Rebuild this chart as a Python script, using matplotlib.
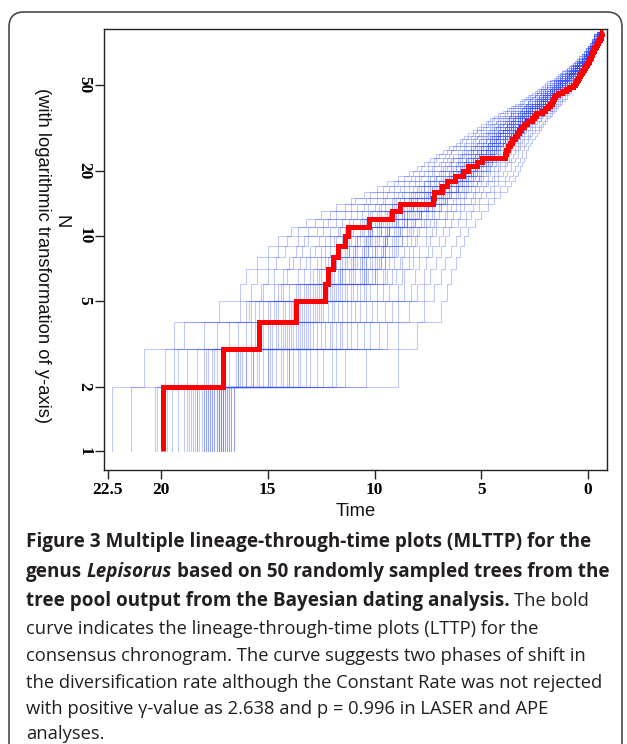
import matplotlib
matplotlib.use("Agg")
import matplotlib.pyplot as plt
from matplotlib.patches import FancyBboxPatch
from matplotlib.ticker import NullLocator

W, H, DPI = 627, 744, 100

# ---------------- data ----------------
x_ticks = [22.5, 20, 15, 10, 5, 0]
x_tick_labels = ["22.5", "20", "15", "10", "5", "0"]
y_ticks = [1, 2, 5, 10, 20, 50]
y_tick_labels = ["1", "2", "5", "10", "20", "50"]
present_time = -0.72  # end of all curves (My)

# consensus chronogram: time (My) at which lineages go N -> N+1, N = 1..87
consensus_times = [
    19.90, 17.10, 15.40, 13.70, 12.30, 12.18, 11.94, 11.71, 11.38, 11.24,
    10.25, 9.20, 8.80, 7.26, 7.20, 6.84, 6.60, 6.23, 5.85, 5.62,
    5.20, 4.96, 3.89, 3.84, 3.77, 3.65, 3.56, 3.42, 3.33, 3.23,
    3.14, 3.00, 2.86, 2.62, 2.53, 2.44, 2.15, 2.01, 1.87, 1.78,
    1.69, 1.64, 1.59, 1.55, 1.41, 1.22, 1.03, 0.89, 0.70, 0.61,
    0.56, 0.52, 0.47, 0.42, 0.37, 0.33, 0.28, 0.23, 0.19, 0.14,
    0.09, 0.05, 0.00, -0.03, -0.06, -0.09, -0.12, -0.15, -0.18, -0.21,
    -0.24, -0.27, -0.30, -0.33, -0.36, -0.39, -0.42, -0.45, -0.48, -0.51,
    -0.54, -0.57, -0.59, -0.61, -0.63, -0.65, -0.67,
]

# 50 sampled trees: for each lineage level N (row), the time (tenths of My)
# at which each tree (column) passes from N to N+1 lineages
level_times_tenths = [
    [223,214,203,202,197,195,192,189,188,187,186,185,184,183,183,182,181,180,180,179,179,178,178,177,177,176,176,175,175,174,174,173,173,173,172,172,172,171,171,171,170,170,169,169,168,168,167,167,166,166],
    [208,198,194,192,188,183,180,179,178,176,175,174,171,170,168,165,164,164,163,162,160,160,158,157,157,155,154,152,150,150,149,148,146,144,143,141,140,140,138,136,135,132,130,127,124,120,118,114,104,89],
    [194,189,180,174,168,164,160,158,156,155,153,152,150,149,148,146,145,144,143,142,141,140,139,138,137,136,135,134,133,132,131,130,129,127,125,123,121,120,118,116,115,113,111,108,105,102,98,94,89,80],
    [173,163,160,159,158,156,154,152,150,149,147,146,145,143,142,140,139,138,137,136,135,134,133,132,131,130,129,128,127,126,125,124,122,120,119,117,115,113,111,109,107,104,101,99,95,92,89,84,77,69],
    [163,158,153,152,147,145,144,143,140,137,136,135,133,132,131,130,129,128,127,126,125,124,123,122,121,120,119,118,117,116,115,114,113,111,110,108,107,105,104,102,99,96,93,89,86,83,80,77,72,66],
    [160,155,150,147,143,141,136,133,130,129,127,125,126,122,121,120,119,115,117,116,115,114,116,112,111,110,109,105,107,106,105,104,103,104,101,100,100,99,95,96,94,92,90,87,86,81,77,74,69,64],
    [155,150,146,140,138,135,132,130,127,125,123,122,120,118,118,116,115,114,113,110,111,110,109,108,106,107,106,105,104,104,102,101,100,99,98,97,97,95,95,93,91,88,87,84,82,79,76,71,67,62],
    [150,145,142,137,134,130,128,125,123,121,117,118,116,114,113,112,112,110,109,109,108,105,106,105,104,103,103,101,100,100,99,96,97,96,95,95,93,92,91,90,89,86,84,82,79,75,73,69,64,60],
    [145,141,136,133,131,126,123,121,119,118,115,114,112,111,109,108,108,107,104,105,104,103,102,102,101,100,99,98,95,96,95,95,94,94,92,91,90,89,87,87,85,83,81,80,76,74,70,67,62,58],
    [139,136,131,127,124,121,117,116,114,112,111,110,107,106,105,103,103,102,102,101,101,99,98,97,97,94,95,94,93,93,93,91,90,89,88,88,87,84,85,83,82,80,79,76,73,71,68,65,60,56],
    [132,128,124,122,118,115,112,110,106,107,105,104,102,100,98,99,98,97,96,97,95,94,93,92,90,91,90,89,89,86,87,86,85,85,85,83,82,81,81,78,77,76,74,72,71,67,64,61,57,53],
    [125,121,118,114,111,108,106,103,102,101,99,98,97,95,94,93,93,93,91,90,90,89,86,87,87,86,85,85,84,83,82,81,79,80,79,78,78,78,76,75,73,72,70,67,66,63,60,57,55,50],
    [118,114,111,108,105,103,100,98,97,95,92,92,91,90,89,89,87,87,86,85,83,84,83,82,82,82,80,80,79,78,76,77,76,75,75,75,73,73,72,70,69,69,66,64,62,60,58,54,51,47],
    [111,109,104,102,99,96,95,92,91,90,88,86,86,84,84,83,83,82,81,80,80,80,78,77,77,76,73,75,74,73,73,73,71,71,70,69,67,68,67,66,66,63,62,60,58,55,53,51,47,44],
    [105,102,99,96,94,91,89,87,86,84,83,82,81,80,79,78,77,77,75,76,75,74,74,74,72,72,71,70,68,69,69,68,67,68,66,65,65,64,64,62,61,60,58,57,54,53,50,48,44,41],
    [99,96,93,91,88,86,84,82,80,79,78,77,77,75,74,73,73,70,72,71,70,70,70,68,68,67,67,67,65,65,64,64,61,62,62,61,61,61,59,58,57,56,55,53,51,49,46,44,41,38],
    [94,91,89,86,84,81,79,77,77,75,74,74,72,71,70,70,70,68,68,67,67,65,66,65,64,64,64,63,62,62,61,61,60,59,59,58,56,57,56,55,54,52,52,50,48,47,44,42,39,36],
    [89,86,83,81,79,78,75,74,72,71,71,69,68,67,64,66,65,65,64,65,63,63,62,61,59,60,60,59,59,59,58,57,57,56,56,55,54,54,53,51,51,50,49,47,45,44,42,39,37,34],
    [84,82,79,77,75,73,72,70,69,68,67,65,65,64,63,63,63,62,61,61,60,60,60,58,58,57,57,55,56,55,55,54,54,54,53,52,52,51,50,50,49,48,47,46,44,42,40,38,35,33],
    [80,78,75,73,72,69,68,67,66,64,64,63,62,62,60,60,59,59,57,58,57,57,56,57,56,55,55,54,53,53,53,52,52,52,51,50,50,49,48,48,47,46,46,44,42,41,39,36,34,32],
    [77,75,72,70,69,67,65,64,64,62,61,60,61,59,58,58,57,56,56,56,55,55,55,54,54,53,53,53,52,51,51,50,49,49,49,48,48,47,47,46,45,45,43,42,41,39,38,36,33,31],
    [74,72,71,68,66,64,63,63,61,60,59,57,57,56,56,57,55,55,54,54,54,53,52,52,52,51,52,50,50,49,49,47,48,48,47,47,45,46,45,45,43,43,42,41,39,37,36,34,32,30],
    [71,70,67,65,63,61,60,59,58,59,57,56,55,54,55,53,53,53,52,51,51,51,50,50,51,49,49,48,48,46,47,47,46,46,46,45,45,44,44,42,42,41,40,39,39,37,35,33,31,29],
    [68,66,64,64,61,59,58,57,55,56,55,54,54,52,52,52,51,50,50,50,50,49,48,48,48,48,47,46,47,46,46,45,44,45,44,44,43,42,43,42,41,40,40,37,37,36,34,33,31,29],
    [65,63,62,60,58,57,55,55,54,53,53,52,51,50,50,50,49,49,48,48,47,47,47,46,46,47,45,45,45,44,43,44,43,43,42,43,42,41,41,40,38,39,38,37,36,34,33,32,30,28],
    [62,60,58,57,55,54,53,52,51,52,50,49,49,47,48,47,47,47,45,46,46,45,45,45,44,44,43,43,42,42,42,42,41,40,41,40,40,40,40,39,38,37,36,35,35,33,32,30,29,27],
    [60,59,57,55,54,53,51,51,50,49,48,48,48,46,46,46,45,44,45,44,44,43,43,43,43,42,42,41,41,41,41,40,39,40,39,39,39,39,38,37,37,36,34,34,33,32,31,30,28,26],
    [58,56,55,53,52,52,50,49,48,47,46,46,45,45,44,45,44,43,43,42,42,42,42,41,42,41,41,40,40,39,39,39,39,38,39,38,37,37,37,36,34,35,34,33,32,32,30,28,27,25],
    [56,54,53,51,50,49,48,47,47,46,45,44,44,42,43,43,42,42,41,41,41,41,40,41,40,39,39,39,37,38,38,37,37,36,36,36,36,36,34,35,34,33,33,33,31,30,28,27,26,24],
    [54,52,52,50,48,47,46,44,45,44,43,42,42,42,41,41,40,40,40,40,39,40,39,38,38,38,37,37,37,37,36,35,36,35,35,35,35,34,34,33,33,31,31,30,30,29,28,26,25,23],
    [52,50,49,48,46,45,44,44,43,43,42,41,41,40,39,39,39,39,38,37,38,38,37,37,36,36,36,36,35,34,35,35,34,34,33,33,33,33,32,31,31,31,30,29,29,27,26,25,23,22],
    [50,48,47,46,45,44,42,42,41,41,40,40,38,38,38,38,38,36,37,37,36,36,35,35,35,35,35,33,34,34,33,33,32,33,32,32,32,30,31,31,30,29,28,28,27,26,25,23,22,21],
    [48,47,45,43,43,42,41,40,39,39,38,38,37,36,37,36,36,36,34,35,35,35,34,33,34,33,33,33,32,32,32,32,31,30,31,31,30,30,29,29,29,28,28,26,26,25,24,23,21,20],
    [46,45,44,42,41,40,39,37,38,37,37,36,35,35,35,35,34,33,34,34,33,33,32,32,32,32,31,31,31,31,31,29,30,30,30,29,28,29,28,28,27,26,26,25,25,24,22,22,20,19],
    [44,42,41,40,39,37,37,37,36,36,34,35,34,34,33,33,32,33,32,32,31,32,31,31,31,31,30,30,30,29,28,29,29,28,28,27,28,27,27,27,25,26,25,24,23,22,22,21,19,18],
    [42,41,39,38,36,36,36,35,34,33,33,33,32,32,31,31,31,31,31,29,30,30,30,29,28,29,29,28,28,27,28,27,27,27,26,26,26,26,26,24,25,24,24,23,21,21,20,19,18,17],
    [40,39,38,36,36,35,34,33,32,32,32,31,31,29,30,30,30,29,28,29,29,28,28,27,28,28,27,27,26,27,26,26,26,25,25,25,25,25,23,24,23,23,22,21,21,20,19,18,17,16],
    [38,37,36,35,34,33,31,32,31,31,30,29,29,29,29,28,27,28,28,27,27,26,27,26,26,26,25,26,25,25,25,24,24,24,24,24,23,23,23,23,22,21,21,21,20,19,17,17,16,15],
    [36,35,34,33,32,30,30,30,29,29,28,28,28,27,27,26,27,26,26,26,25,25,25,25,25,24,24,24,24,24,22,23,23,23,23,21,22,22,22,21,20,20,20,19,19,17,17,16,15,14],
    [34,33,32,31,29,29,29,28,28,26,27,26,26,26,24,25,25,25,25,23,24,24,24,23,22,23,23,23,22,21,22,22,22,21,20,21,21,21,20,19,20,19,19,18,16,17,16,15,14,13],
    [32,31,30,28,28,28,27,26,25,26,25,25,24,23,24,24,23,23,22,23,23,22,22,21,22,22,21,21,20,21,21,20,20,19,20,20,19,19,18,19,18,18,17,16,16,16,15,14,13,12],
    [31,30,29,28,27,27,26,24,25,25,24,24,22,23,23,23,22,21,22,22,22,21,20,21,21,21,20,19,20,20,20,19,18,19,19,19,18,17,18,18,17,17,15,16,15,15,14,12,12,11],
    [29,28,27,26,26,25,23,24,23,23,23,21,22,21,21,21,20,21,20,20,20,19,20,19,19,19,18,19,19,18,18,17,18,18,17,17,16,17,17,16,16,15,15,15,14,13,13,12,11,10],
    [28,27,25,25,25,24,23,23,23,21,22,22,21,21,21,19,20,20,20,20,19,19,19,19,19,18,18,18,18,18,17,18,17,17,17,16,17,16,16,16,15,15,15,14,14,13,12,12,11,10],
    [26,25,24,24,24,22,22,21,20,21,20,20,20,18,19,19,19,19,17,18,18,18,18,16,17,17,17,17,16,16,16,16,16,15,16,15,15,15,14,15,14,14,14,13,12,12,11,11,10,9],
    [25,24,23,22,22,21,21,20,20,20,18,19,19,18,18,18,17,18,17,17,17,16,17,16,16,16,16,15,16,15,15,15,14,15,15,14,14,13,14,14,13,13,12,12,12,11,10,9,9,8],
    [24,23,22,22,21,21,20,20,19,18,19,18,18,18,16,17,17,17,17,16,16,16,16,16,15,16,16,15,15,14,15,15,15,14,14,13,14,14,14,13,12,13,12,12,11,10,10,10,9,8],
    [22,21,20,19,19,19,18,18,16,17,17,17,16,15,16,16,16,15,14,15,15,15,15,13,14,14,14,14,13,14,13,13,13,12,13,13,13,12,11,12,12,11,11,10,10,10,9,8,8,7],
    [21,20,18,19,18,18,17,16,16,16,16,16,14,15,15,15,15,13,14,14,14,14,13,13,13,13,13,12,13,13,12,12,11,12,12,12,12,10,11,11,11,10,9,10,9,9,8,6,7,6],
    [20,19,19,18,16,17,16,16,16,15,15,15,15,14,14,13,14,14,14,14,12,13,13,13,13,12,13,12,12,12,11,12,12,12,11,11,10,11,11,11,10,9,10,9,9,9,7,7,7,6],
    [19,18,18,16,16,16,15,15,14,15,14,14,14,13,12,13,13,13,13,12,12,12,12,12,11,12,12,11,11,10,11,11,11,10,10,10,10,10,9,10,9,9,9,8,7,8,7,6,6,5],
    [18,17,16,16,16,15,14,14,14,14,14,13,12,13,13,13,12,12,11,12,12,12,12,10,11,11,11,11,10,11,11,10,10,10,9,10,10,10,10,9,8,9,9,8,8,7,6,6,6,5],
    [16,15,15,14,13,13,13,13,12,12,11,12,11,11,11,11,10,11,11,10,10,9,10,10,10,10,9,10,9,9,9,8,9,9,9,9,8,7,8,8,8,7,7,6,7,6,6,5,4,4],
    [15,14,14,13,13,12,12,12,12,11,11,10,11,11,10,10,10,9,10,10,10,10,9,9,9,9,9,8,9,9,9,9,8,8,8,8,8,8,7,8,7,7,7,7,6,5,6,5,5,4],
    [14,13,13,11,12,12,11,11,11,9,10,10,10,10,9,8,9,9,9,9,8,9,9,8,8,7,8,8,8,8,7,8,8,7,7,7,6,7,7,7,6,6,5,6,5,5,5,3,4,3],
    [13,12,12,12,11,11,11,9,10,10,10,9,9,8,9,9,9,9,8,7,8,8,8,8,7,8,8,8,7,6,7,7,7,7,6,7,7,7,6,6,5,6,6,5,5,4,4,4,3,3],
    [12,12,10,11,10,10,10,9,8,9,9,8,8,8,7,8,8,8,7,7,7,6,7,7,7,7,7,6,6,6,6,6,5,6,6,6,6,6,5,4,5,5,5,4,4,4,2,3,2,2],
    [11,11,10,10,8,9,9,8,8,8,7,8,8,7,7,7,6,7,7,7,7,7,6,6,6,6,6,6,5,6,6,6,6,5,6,5,5,5,4,5,5,5,4,4,3,4,3,3,2,2],
    [10,10,9,8,8,8,8,7,7,6,7,7,7,6,6,5,6,6,6,6,5,6,6,5,5,5,4,5,5,5,5,4,5,5,5,4,4,3,4,4,4,4,3,2,3,3,2,2,1,1],
    [9,9,7,8,8,7,7,6,7,6,6,6,6,5,6,6,6,5,5,4,5,5,5,5,4,5,5,5,4,5,4,4,4,3,4,4,4,4,4,3,3,3,3,3,3,1,2,2,1,1],
    [8,8,7,7,7,6,5,6,6,5,5,5,4,5,5,5,5,4,3,4,4,4,4,4,4,4,3,4,4,4,3,3,3,3,3,2,3,3,3,3,2,2,1,2,2,1,1,1,0,0],
    [7,7,6,5,6,5,5,5,5,4,5,4,4,4,4,3,4,4,4,4,4,3,4,3,3,3,3,3,2,3,3,3,3,2,3,3,3,3,2,2,1,2,2,2,1,1,1,1,0,0],
    [6,6,5,5,4,5,5,4,4,4,4,3,4,4,4,3,3,3,3,2,3,3,3,3,3,3,2,3,3,3,3,3,2,2,2,2,1,2,2,2,2,2,2,1,1,0,1,1,0,0],
    [6,6,5,5,5,4,4,4,3,4,4,3,3,3,3,3,2,3,3,3,3,3,3,2,2,1,2,2,2,2,2,3,2,2,2,2,2,2,1,1,0,1,1,1,0,0,0,0,-1,-1],
    [5,5,4,4,4,4,3,3,3,2,3,3,3,3,3,2,2,2,2,2,1,2,2,2,2,2,2,2,1,2,2,2,1,1,1,1,1,0,1,1,1,1,1,0,-1,0,0,0,-1,-1],
    [4,4,4,3,3,2,3,3,2,2,2,2,2,2,1,2,2,2,2,1,2,2,2,1,1,1,1,1,1,1,0,1,1,1,1,1,0,1,1,1,1,0,0,0,-1,0,0,-1,-1,-1],
    [4,4,3,3,3,3,2,1,2,2,2,2,2,2,2,1,1,1,0,1,1,1,1,1,1,0,1,1,1,1,1,1,0,-1,0,0,0,0,0,-1,0,0,0,-1,-1,-2,-1,-1,-2,-2],
    [3,3,3,2,1,2,2,2,1,1,1,1,0,1,1,1,1,1,1,1,0,1,1,0,0,0,0,0,0,-1,0,0,0,0,0,0,0,0,-1,0,0,-1,-1,-2,-1,-1,-1,-2,-2,-2],
    [3,3,3,2,2,2,1,2,1,1,1,1,1,1,1,0,1,1,1,1,1,1,0,0,0,0,0,-1,0,0,0,0,0,0,-1,0,0,0,0,0,-1,-1,-1,-1,-1,-1,-2,-2,-2,-2],
    [2,2,2,1,1,1,1,1,0,1,1,1,0,0,0,0,0,-1,0,0,0,0,0,0,0,0,0,0,-1,0,0,0,0,0,0,0,-1,-1,-1,-1,-2,-1,-1,-1,-1,-1,-1,-2,-2,-2],
    [2,2,2,1,1,0,1,1,0,0,0,0,0,-1,0,0,0,0,0,0,0,0,0,-1,-2,-1,-1,-1,-1,-1,-1,-1,-1,-2,-1,-1,-1,-1,-1,-1,-1,-2,-2,-2,-3,-2,-2,-3,-3,-3],
    [1,1,1,0,-1,0,0,0,0,0,0,0,-1,-1,-2,-1,-1,-1,-1,-1,-1,-1,-1,-1,-1,-1,-2,-1,-1,-1,-1,-1,-1,-1,-1,-1,-2,-2,-3,-2,-2,-2,-2,-2,-2,-2,-2,-3,-3,-3],
    [1,1,1,0,0,0,0,-1,0,0,0,0,-1,-1,-1,-1,-1,-1,-1,-2,-1,-1,-1,-1,-1,-1,-1,-1,-1,-1,-2,-1,-1,-1,-1,-1,-2,-2,-2,-2,-2,-2,-2,-3,-2,-2,-2,-3,-3,-3],
    [0,0,0,0,-1,-1,-1,-1,-1,-1,-2,-1,-1,-1,-1,-1,-1,-1,-1,-1,-1,-1,-1,-2,-2,-2,-2,-1,-2,-2,-2,-2,-2,-2,-2,-3,-2,-2,-2,-2,-2,-3,-2,-2,-2,-2,-3,-3,-3,-3],
    [0,0,-1,0,-1,-1,-1,-1,-1,-1,-1,-1,-1,-1,-1,-2,-1,-1,-1,-1,-1,-1,-1,-2,-2,-2,-2,-2,-2,-2,-3,-2,-2,-2,-2,-2,-2,-2,-2,-2,-2,-2,-2,-2,-3,-2,-3,-3,-3,-3],
    [-1,-1,-1,-1,-2,-2,-1,-2,-2,-2,-2,-2,-2,-2,-2,-2,-2,-2,-2,-2,-3,-2,-2,-3,-3,-3,-3,-3,-3,-3,-3,-3,-3,-4,-3,-3,-3,-3,-3,-3,-4,-3,-3,-3,-3,-3,-4,-4,-4,-4],
    [-1,-1,-1,-2,-2,-2,-2,-2,-2,-2,-2,-2,-2,-3,-2,-2,-2,-2,-2,-2,-2,-2,-2,-3,-3,-3,-2,-3,-3,-3,-3,-3,-3,-3,-3,-3,-3,-3,-4,-3,-3,-3,-3,-3,-3,-4,-4,-4,-4,-4],
    [-2,-2,-2,-2,-2,-2,-2,-3,-3,-3,-2,-3,-3,-3,-3,-3,-3,-3,-3,-3,-2,-3,-3,-3,-3,-3,-3,-3,-3,-3,-4,-3,-3,-3,-3,-3,-3,-3,-4,-3,-3,-3,-3,-4,-4,-4,-4,-4,-4,-4],
    [-2,-2,-2,-2,-2,-3,-2,-3,-3,-3,-3,-3,-3,-3,-3,-2,-3,-3,-3,-3,-3,-3,-3,-3,-3,-4,-3,-3,-3,-3,-3,-3,-3,-3,-3,-4,-3,-3,-3,-3,-3,-3,-3,-4,-4,-4,-4,-4,-4,-4],
    [-2,-2,-2,-2,-3,-3,-3,-3,-2,-3,-3,-3,-3,-3,-3,-3,-3,-3,-4,-3,-3,-3,-3,-4,-4,-4,-4,-4,-4,-4,-3,-4,-4,-4,-4,-4,-4,-4,-4,-4,-4,-4,-5,-4,-4,-4,-5,-5,-5,-5],
    [-2,-2,-2,-3,-3,-3,-3,-3,-3,-3,-3,-3,-4,-3,-3,-3,-3,-3,-3,-3,-3,-3,-3,-4,-4,-4,-4,-3,-4,-4,-4,-4,-4,-4,-4,-4,-4,-5,-4,-4,-4,-4,-4,-4,-4,-5,-5,-5,-5,-5],
    [-3,-3,-3,-3,-3,-3,-3,-4,-4,-3,-4,-4,-4,-4,-4,-4,-4,-4,-4,-4,-4,-4,-3,-4,-4,-4,-4,-4,-4,-4,-4,-4,-4,-5,-4,-4,-4,-4,-4,-4,-5,-4,-4,-5,-5,-5,-5,-5,-5,-5],
    [-3,-3,-3,-3,-4,-3,-3,-4,-4,-4,-4,-4,-4,-4,-4,-4,-4,-3,-4,-4,-4,-4,-4,-4,-4,-4,-4,-4,-5,-4,-4,-4,-4,-4,-4,-4,-4,-4,-5,-4,-4,-4,-4,-5,-5,-5,-5,-5,-5,-5],
    [-3,-3,-3,-3,-3,-3,-4,-4,-4,-4,-4,-4,-4,-4,-3,-4,-4,-4,-4,-4,-4,-4,-4,-4,-4,-5,-4,-4,-4,-4,-4,-4,-4,-4,-4,-4,-5,-4,-4,-4,-4,-4,-4,-5,-5,-5,-5,-5,-5,-5],
    [-3,-3,-3,-3,-4,-4,-4,-4,-4,-3,-4,-4,-4,-4,-4,-4,-4,-4,-4,-4,-5,-4,-4,-5,-5,-5,-5,-5,-5,-5,-5,-4,-5,-5,-5,-5,-5,-5,-5,-5,-5,-5,-5,-5,-6,-5,-6,-6,-6,-6],
    [-4,-4,-4,-4,-4,-4,-4,-5,-5,-5,-5,-4,-5,-5,-5,-5,-5,-5,-5,-5,-5,-5,-5,-5,-6,-5,-5,-5,-5,-5,-5,-5,-5,-5,-5,-5,-5,-6,-5,-5,-5,-5,-5,-6,-6,-6,-6,-6,-6,-6],
    [-4,-4,-4,-5,-4,-4,-4,-5,-5,-5,-5,-5,-5,-5,-5,-5,-4,-5,-5,-5,-5,-5,-5,-5,-5,-5,-5,-5,-5,-6,-5,-5,-5,-5,-5,-5,-5,-5,-5,-5,-5,-6,-5,-6,-6,-6,-6,-6,-6,-6],
]

caption_line1 = "Figure 3 Multiple lineage-through-time plots (MLTTP) for the"
caption_line2 = [("genus", "bold", "normal"), ("Lepisorus", "bold", "italic"),
                 ("based on 50 randomly sampled trees from the", "bold", "normal")]
caption_line3 = [("tree pool output from the Bayesian dating analysis.", "bold", "normal"),
                 ("The bold", "normal", "normal")]
caption_rest = [
    "curve indicates the lineage-through-time plots (LTTP) for the",
    "consensus chronogram. The curve suggests two phases of shift in",
    "the diversification rate although the Constant Rate was not rejected",
    "with positive \u03b3-value as 2.638 and p = 0.996 in LASER and APE",
    "analyses.",
]

# ---------------- figure ----------------
fig = plt.figure(figsize=(W / DPI, H / DPI), dpi=DPI)
renderer = fig.canvas.get_renderer()


def fx(px):
    return px / W


def fy(py):
    return 1 - py / H


border = FancyBboxPatch((fx(9), fy(790)), fx(622) - fx(9), fy(12) - fy(790),
                        boxstyle="round,pad=0,rounding_size=0.024",
                        mutation_aspect=W / H, transform=fig.transFigure,
                        fc="none", ec="#4a4a4a", lw=1.2)
fig.add_artist(border)

ax = fig.add_axes([fx(104), fy(470), fx(607) - fx(104), fy(29) - fy(470)])

n_levels = len(level_times_tenths)
n_trees = min(len(r) for r in level_times_tenths)
ys = [1] + list(range(2, n_levels + 2)) + [n_levels + 1]
for j in range(n_trees):
    t = sorted([level_times_tenths[k][j] / 10.0 for k in range(n_levels)], reverse=True)
    xs = [t[0]] + t + [present_time]
    ax.plot(xs, ys, drawstyle="steps-post", color=(0.22, 0.32, 1.0, 0.32), lw=0.75, zorder=2)

tc = sorted(consensus_times, reverse=True)
xs_c = [tc[0]] + tc + [present_time]
ys_c = [1] + list(range(2, len(tc) + 2)) + [len(tc) + 1]
ax.plot(xs_c, ys_c, drawstyle="steps-post", color="#ff0000", lw=3.6, zorder=3,
        solid_joinstyle="miter", solid_capstyle="butt")

ax.set_yscale("log")
ax.set_xlim(22.67, -0.89)
ax.set_ylim(0.82, 91)
ax.set_xticks(x_ticks)
ax.set_xticklabels(x_tick_labels)
ax.set_yticks(y_ticks)
ax.set_yticklabels(y_tick_labels)
ax.yaxis.set_minor_locator(NullLocator())
ax.xaxis.set_minor_locator(NullLocator())
ax.tick_params(axis="both", direction="out", length=6.5, width=1.0, color="#222222", pad=2)
for s in ax.spines.values():
    s.set_linewidth(1.0)
    s.set_color("#222222")
tick_font = dict(family="Liberation Serif", weight="bold", size=12.5)
for lab in ax.get_xticklabels():
    lab.set_fontproperties(matplotlib.font_manager.FontProperties(**tick_font))
for lab in ax.get_yticklabels():
    lab.set_fontproperties(matplotlib.font_manager.FontProperties(**tick_font))
    lab.set_rotation(-90)
    lab.set_va("center")

label_font = dict(family="Liberation Sans", size=13.2, color="#111111")
fig.text(fx(61), fy(222), "N", rotation=-90, ha="center", va="center", **label_font)
fig.text(fx(42), fy(256), "(with logarithmic transformation of y-axis)", rotation=-90,
         ha="center", va="center", **label_font)
fig.text(fx(356), fy(511), "Time", ha="center", va="center", **label_font)

# ---------------- caption ----------------
cap_color = "#231f20"
cap_family = "Open Sans"
x0 = 26


def width_of(text, size, weight="normal", style="normal"):
    t = fig.text(0, 0, text, fontsize=size, fontweight=weight, fontstyle=style, family=cap_family)
    w = t.get_window_extent(renderer=renderer).width
    t.remove()
    return w


base = 10.0
size_b = base * 566.0 / width_of(caption_line1, base, "bold")
size_r = base * 579.0 / width_of(caption_rest[2], base, "normal")

baselines = [547, 577, 606, 634, 661, 688, 714, 739]


def draw_runs(runs, y, sizes):
    x = x0
    for i, (txt, weight, style) in enumerate(runs):
        size = sizes[weight]
        if i > 0:
            sp = width_of("x x", size, weight, style) - width_of("xx", size, weight, style)
            x += sp
        fig.text(fx(x), fy(y), txt, fontsize=size, fontweight=weight, fontstyle=style,
                 family=cap_family, color=cap_color, ha="left", va="baseline")
        x += width_of(txt, size, weight, style)


sizes = {"bold": size_b, "normal": size_r}
draw_runs([(caption_line1, "bold", "normal")], baselines[0], sizes)
draw_runs(caption_line2, baselines[1], sizes)
draw_runs(caption_line3, baselines[2], sizes)
for k, line in enumerate(caption_rest):
    draw_runs([(line, "normal", "normal")], baselines[3 + k], sizes)

fig.savefig("out.png", dpi=DPI)
